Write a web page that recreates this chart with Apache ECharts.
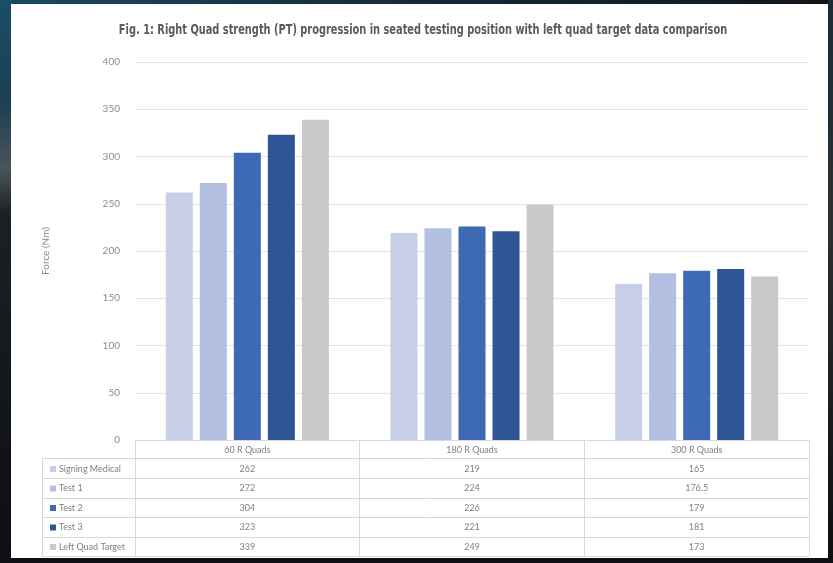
<!DOCTYPE html>
<html>
<head>
<meta charset="utf-8">
<script src="https://cdn.jsdelivr.net/npm/echarts@6/dist/echarts.min.js"></script>
<style>
  html, body { margin: 0; padding: 0; background: #0f1216; }
  #chart { width: 833px; height: 563px; }
</style>
</head>
<body>
<div id="chart"></div>
<script>
// Categories and per-test peak torque values (Nm)
const categories = ['60 R Quads', '180 R Quads', '300 R Quads'];
const seriesNames = ['Signing Medical', 'Test 1', 'Test 2', 'Test 3', 'Left Quad Target'];
const signingMedical = [262, 219, 165];
const test1 = [272, 224, 176.5];
const test2 = [304, 226, 179];
const test3 = [323, 221, 181];
const leftQuadTarget = [339, 249, 173];
const yTicks = [0, 50, 100, 150, 200, 250, 300, 350, 400];
const titleText = 'Fig. 1: Right Quad strength (PT) progression in seated testing position with left quad target data comparison';

const allValues = [signingMedical, test1, test2, test3, leftQuadTarget];
const colors = ['#c6cee8', '#b2bfe0', '#3e69b5', '#2f5597', '#c9c9c9'];

const gridL = 135, gridR = 809, gridT = 62, gridB = 440;
const tableL = 42, tableBottom = 556;
const rowLines = [458, 478, 498, 517, 537, 556];

const chart = echarts.init(document.getElementById('chart'));

const bgGraphics = [
  { type: 'rect', z: -10, shape: { x: 0, y: 0, width: 833, height: 563 },
    style: { fill: new echarts.graphic.LinearGradient(0, 0, 1, 0, [
      { offset: 0, color: '#1a4a62' }, { offset: 0.5, color: '#152a36' }, { offset: 1, color: '#0f151b' }]) } },
  { type: 'rect', z: -10, shape: { x: 0, y: 0, width: 12, height: 563 },
    style: { fill: new echarts.graphic.LinearGradient(0, 0, 0, 1, [
      { offset: 0, color: '#1b4e68' }, { offset: 0.18, color: '#1b3f52' }, { offset: 0.3, color: '#4a5559' },
      { offset: 0.38, color: '#1c2024' }, { offset: 1, color: '#0c0e11' }]) } },
  { type: 'rect', z: -10, shape: { x: 828, y: 0, width: 5, height: 563 },
    style: { fill: new echarts.graphic.LinearGradient(0, 0, 0, 1, [
      { offset: 0, color: '#1b2b36' }, { offset: 0.4, color: '#2a2f33' }, { offset: 1, color: '#0c0e10' }]) } },
  { type: 'rect', z: -10, shape: { x: 0, y: 558, width: 833, height: 5 }, style: { fill: '#0d0f12' } },
  { type: 'rect', z: -9, shape: { x: 11, y: 4, width: 817, height: 554 }, style: { fill: '#ffffff' } }
];

// Condensed heading, squeezed horizontally around its centre
const titleGraphic = {
  type: 'text', z: 10, x: 423, y: 30, scaleX: 0.78,
  style: {
    text: titleText, align: 'center', verticalAlign: 'middle',
    fontFamily: 'DejaVu Sans Condensed', fontWeight: 'bold', fontSize: 14, fill: '#5a5a5a'
  }
};

// Table grid lines under the plot
const tableGraphics = [];
rowLines.forEach(function (y) {
  tableGraphics.push({ type: 'line', z: 5, shape: { x1: tableL, y1: y + 0.5, x2: gridR, y2: y + 0.5 },
    style: { stroke: '#d9d9d9', lineWidth: 1 } });
});
tableGraphics.push({ type: 'line', z: 5, shape: { x1: tableL + 0.5, y1: rowLines[0], x2: tableL + 0.5, y2: tableBottom },
  style: { stroke: '#d9d9d9', lineWidth: 1 } });

function fmt(v) { return String(v); }

chart.setOption({
  animation: false,
  backgroundColor: 'transparent',
  color: colors,
  legend: {
    orient: 'vertical', left: 45, top: 458, itemGap: 7.5,
    itemWidth: 6, itemHeight: 6, icon: 'rect',
    data: seriesNames,
    textStyle: { fontFamily: 'Lato', fontSize: 9, color: '#7f7f7f', lineHeight: 12, padding: [0, 0, 0, -2] }
  },
  grid: { left: gridL, right: 833 - gridR, top: gridT, bottom: 563 - gridB, containLabel: false },
  xAxis: {
    type: 'category',
    data: categories,
    axisLine: { show: true, lineStyle: { color: '#d9d9d9' } },
    axisTick: { show: true, length: tableBottom - gridB, lineStyle: { color: '#d9d9d9' } },
    axisLabel: {
      interval: 0, margin: 1,
      formatter: function (value, idx) {
        const lines = ['{h|' + value + '}'];
        allValues.forEach(function (arr) { lines.push('{v|' + fmt(arr[idx]) + '}'); });
        return lines.join('\n');
      },
      rich: {
        h: { fontFamily: 'Lato', fontSize: 9, color: '#7f7f7f', lineHeight: 18 },
        v: { fontFamily: 'Lato', fontSize: 9, color: '#7f7f7f', lineHeight: 19.5 }
      }
    }
  },
  yAxis: {
    type: 'value', min: yTicks[0], max: yTicks[yTicks.length - 1], interval: 50,
    name: 'Force (Nm)', nameLocation: 'middle', nameGap: 84, nameRotate: 90,
    nameTextStyle: { fontFamily: 'Lato', fontSize: 10, color: '#8c8c8c' },
    axisLine: { show: false }, axisTick: { show: false },
    axisLabel: { margin: 15, fontFamily: 'Lato', fontSize: 10, color: '#8c8c8c' },
    splitLine: { lineStyle: { color: '#e3e3e3', width: 1 } }
  },
  graphic: bgGraphics.concat([titleGraphic]).concat(tableGraphics),
  series: seriesNames.map(function (name, i) {
    return {
      name: name, type: 'bar', data: allValues[i],
      barWidth: 27, barGap: '26%',
      itemStyle: { color: colors[i] }
    };
  })
});
</script>
</body>
</html>
